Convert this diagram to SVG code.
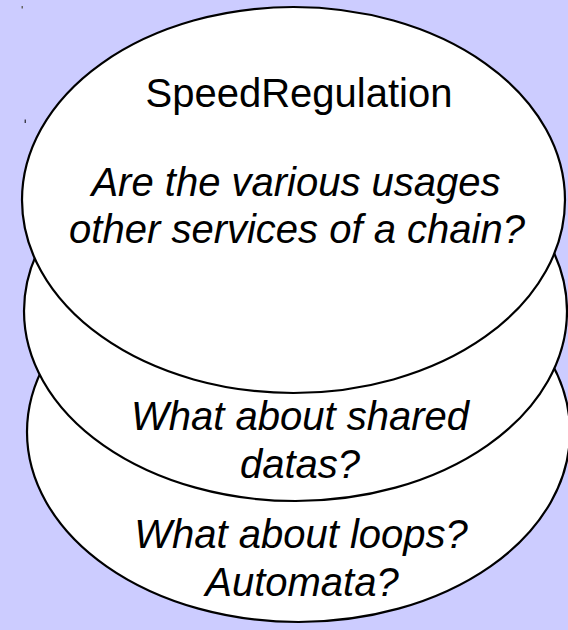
<svg xmlns="http://www.w3.org/2000/svg" width="568" height="630" viewBox="0 0 568 630">
  <style>
    .bg { fill: #ccccff; }
    .node { fill: #ffffff; stroke: #000000; stroke-width: 2.2; }
    .title { font-family: "Liberation Sans", Arial, sans-serif; font-size: 30px; fill: #000; text-anchor: middle; }
    .note { font-family: "Liberation Sans", Arial, sans-serif; font-size: 40px; font-style: italic; fill: #000; text-anchor: middle; }
  </style>
  <rect class="bg" x="0" y="0" width="568" height="630"/>
  <rect x="21.5" y="6" width="1.5" height="2.5" fill="#666"/>
  <rect x="24.7" y="119.5" width="1" height="3.5" fill="#000"/>
  <g id="node-loops">
    <ellipse class="node" cx="298.5" cy="432" rx="271.5" ry="190"/>
    <text class="note" x="301" y="548">What about loops?</text>
    <text class="note" x="302" y="596">Automata?</text>
  </g>
  <g id="node-shared">
    <ellipse class="node" cx="295.5" cy="311" rx="271.5" ry="190"/>
    <text class="note" x="300" y="430">What about shared</text>
    <text class="note" x="300" y="478">datas?</text>
  </g>
  <g id="node-speedregulation">
    <ellipse class="node" cx="293.5" cy="200" rx="271.5" ry="193"/>
    <text class="title" x="299" y="107" style="font-size:40px">SpeedRegulation</text>
    <text class="note" x="296" y="196">Are the various usages</text>
    <text class="note" x="297" y="243">other services of a chain?</text>
  </g>
</svg>
